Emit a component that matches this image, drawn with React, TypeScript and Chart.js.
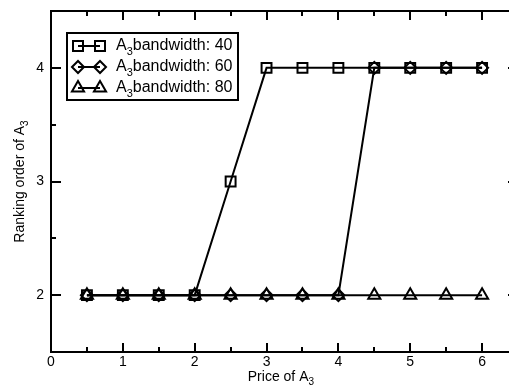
import React, { useEffect, useRef } from "react";
import { Chart, registerables } from "chart.js";

Chart.register(...registerables);

const prices = [0.5, 1, 1.5, 2, 2.5, 3, 3.5, 4, 4.5, 5, 5.5, 6];
const bw40 = [2, 2, 2, 2, 3, 4, 4, 4, 4, 4, 4, 4];
const bw60 = [2, 2, 2, 2, 2, 2, 2, 2, 4, 4, 4, 4];
const bw80 = [2, 2, 2, 2, 2, 2, 2, 2, 2, 2, 2, 2];
const bandwidths = ["40", "60", "80"];
const pointStyles = ["rect", "rectRot", "triangle"];
const xTickValues = [0, 1, 2, 3, 4, 5, 6];
const xMinorValues = [0.5, 1.5, 2.5, 3.5, 4.5, 5.5];
const yTickValues = [2, 3, 4];
const yMinorValues = [2.5, 3.5];
const xTitle = [{ t: "Price of A" }, { t: "3", sub: true }];
const yTitle = [{ t: "Ranking order of A" }, { t: "3", sub: true }];

const FF = '"Liberation Sans", Arial, sans-serif';

type Part = { t: string; sub?: boolean };

function drawRich(
  ctx: CanvasRenderingContext2D,
  parts: Part[],
  x: number,
  y: number,
  size: number,
  align: "left" | "center" | "right"
) {
  const main = `${size}px ${FF}`;
  const subf = `${Math.round(size * 0.7)}px ${FF}`;
  let w = 0;
  for (const p of parts) {
    ctx.font = p.sub ? subf : main;
    w += ctx.measureText(p.t).width;
  }
  let cx = align === "left" ? x : align === "center" ? x - w / 2 : x - w;
  ctx.textBaseline = "middle";
  ctx.textAlign = "left";
  for (const p of parts) {
    ctx.font = p.sub ? subf : main;
    ctx.fillText(p.t, cx, p.sub ? y + size * 0.38 : y);
    cx += ctx.measureText(p.t).width;
  }
}

function drawMarker(ctx: CanvasRenderingContext2D, style: string, x: number, y: number) {
  ctx.beginPath();
  if (style === "rect") {
    const s = 5;
    ctx.rect(x - s, y - s, 2 * s, 2 * s);
  } else if (style === "rectRot") {
    const r = 6;
    ctx.moveTo(x - r, y);
    ctx.lineTo(x, y - r);
    ctx.lineTo(x + r, y);
    ctx.lineTo(x, y + r);
    ctx.closePath();
  } else {
    const r = 7;
    for (let i = 0; i < 3; i++) {
      const a = (i * 2 * Math.PI) / 3;
      const px = x + Math.sin(a) * r;
      const py = y - Math.cos(a) * r;
      if (i === 0) ctx.moveTo(px, py);
      else ctx.lineTo(px, py);
    }
    ctx.closePath();
  }
  ctx.stroke();
}

const framePlugin = {
  id: "frameAxes",
  afterDraw(chart: any) {
    const ctx: CanvasRenderingContext2D = chart.ctx;
    const { left, right, top, bottom } = chart.chartArea;
    const xs = chart.scales.x;
    const ys = chart.scales.y;
    ctx.save();
    ctx.strokeStyle = "#000";
    ctx.fillStyle = "#000";
    ctx.lineWidth = 2;
    ctx.beginPath();
    ctx.rect(left, top, right - left, bottom - top);
    ctx.stroke();

    const tick = (v: number, len: number) => {
      const px = Math.round(xs.getPixelForValue(v));
      ctx.beginPath();
      ctx.moveTo(px, bottom);
      ctx.lineTo(px, bottom - len);
      ctx.moveTo(px, top);
      ctx.lineTo(px, top + len);
      ctx.stroke();
    };
    xTickValues.forEach((v) => tick(v, 9));
    xMinorValues.forEach((v) => tick(v, 5));
    const ytick = (v: number, len: number) => {
      const py = Math.round(ys.getPixelForValue(v));
      ctx.beginPath();
      ctx.moveTo(left, py);
      ctx.lineTo(left + len, py);
      ctx.moveTo(right, py);
      ctx.lineTo(right - len, py);
      ctx.stroke();
    };
    yTickValues.forEach((v) => ytick(v, 10));
    yMinorValues.forEach((v) => ytick(v, 5));

    ctx.font = `14px ${FF}`;
    ctx.textAlign = "center";
    ctx.textBaseline = "middle";
    xTickValues.forEach((v) => {
      ctx.fillText(String(v), xs.getPixelForValue(v), bottom + 10);
    });
    ctx.textAlign = "right";
    yTickValues.forEach((v) => {
      ctx.fillText(String(v), left - 7, ys.getPixelForValue(v));
    });

    drawRich(ctx, xTitle, (left + xs.getPixelForValue(6.4)) / 2, bottom + 25, 14, "center");
    ctx.save();
    ctx.translate(20, (top + bottom) / 2);
    ctx.rotate(-Math.PI / 2);
    drawRich(ctx, yTitle, 0, 0, 14, "center");
    ctx.restore();

    const bx = 67, by = 33, bw = 171, bh = 67;
    ctx.fillStyle = "#fff";
    ctx.fillRect(bx, by, bw, bh);
    ctx.fillStyle = "#000";
    ctx.lineWidth = 2;
    ctx.strokeRect(bx, by, bw, bh);
    const rows = [46, 67, 88];
    bandwidths.forEach((b, i) => {
      const y = rows[i];
      ctx.lineWidth = 2;
      ctx.beginPath();
      ctx.moveTo(78, y);
      ctx.lineTo(100, y);
      ctx.stroke();
      drawMarker(ctx, pointStyles[i], 78, y);
      drawMarker(ctx, pointStyles[i], 100, y);
      drawRich(ctx, [{ t: "A" }, { t: "3", sub: true }, { t: "bandwidth: " + b }], 116, y, 16, "left");
    });
    ctx.restore();
  },
};

export default function App() {
  const ref = useRef<HTMLCanvasElement | null>(null);
  useEffect(() => {
    if (!ref.current) return;
    const series = [bw40, bw60, bw80];
    const chart = new Chart(ref.current, {
      type: "line",
      data: {
        datasets: series.map((s, i) => ({
          label: "A3bandwidth: " + bandwidths[i],
          data: prices.map((p, j) => ({ x: p, y: s[j] })),
          borderColor: "#000",
          borderWidth: 2,
          backgroundColor: "rgba(0,0,0,0)",
          pointStyle: pointStyles[i] as any,
          pointRadius: i === 0 ? 7 : i === 1 ? 6 : 7,
          pointBorderWidth: 2,
          pointBorderColor: "#000",
          pointBackgroundColor: "rgba(0,0,0,0)",
          tension: 0,
          fill: false,
        })),
      },
      options: {
        responsive: false,
        animation: false,
        layout: { autoPadding: false, padding: { left: 51, top: 11, bottom: 33, right: 2 } },
        plugins: { legend: { display: false }, tooltip: { enabled: false } },
        scales: {
          x: { type: "linear", min: 0, max: 6.5, display: false },
          y: { type: "linear", min: 1.5, max: 4.5, display: false },
        },
      },
      plugins: [framePlugin],
    });
    return () => chart.destroy();
  }, []);
  return (
    <div
      style={{
        position: "fixed",
        left: 0,
        top: 0,
        width: 509,
        height: 385,
        overflow: "hidden",
        background: "#fff",
      }}
    >
      <div style={{ position: "absolute", left: 0, top: 0, width: 520, height: 385 }}>
        <canvas
          ref={ref}
          width={520}
          height={385}
          style={{ display: "block", width: 520, height: 385 }}
        />
      </div>
    </div>
  );
}
